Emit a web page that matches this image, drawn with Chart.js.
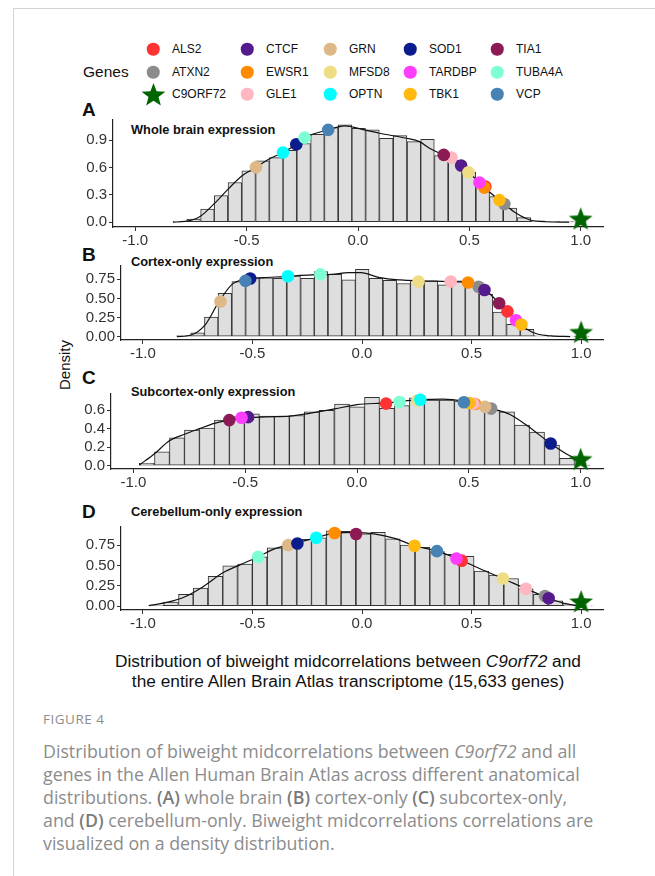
<!DOCTYPE html>
<html>
<head>
<meta charset="utf-8">
<script src="https://cdn.jsdelivr.net/npm/chart.js@4.4.1/dist/chart.umd.min.js"></script>
<style>
  html, body { margin: 0; padding: 0; background: #fff; }
  body { width: 655px; height: 876px; position: relative; overflow: hidden; font-family: "Liberation Sans", Arial, sans-serif; color: #111; }
  .frame-top { position: absolute; left: 13px; top: 8px; width: 642px; height: 1px; background: #d4d4d4; }
  .frame-left { position: absolute; left: 13px; top: 8px; width: 1px; height: 868px; background: #d4d4d4; }
  .abs { position: absolute; white-space: nowrap; }
  .panel-tag { font-weight: bold; font-size: 19px; line-height: 1; }
  .panel-title { font-weight: bold; font-size: 12.8px; line-height: 1; }
  .legend-item { position: absolute; font-size: 12px; line-height: 1; transform: translateY(-50%); }
  .dot { position: absolute; width: 12.5px; height: 12.5px; border-radius: 50%; transform: translate(-50%, -50%); }
  canvas.panel { position: absolute; }
  .xtitle { font-size: 17.3px; text-align: center; line-height: 20px; }
  .fig { font-family: "Open Sans", sans-serif; color: #8c8c8c; }
  .fig b { color: #7a7a7a; font-weight: 600; }
</style>
</head>
<body>
<div class="frame-top"></div>
<div class="frame-left"></div>

<div id="legend"></div>

<div class="abs panel-tag" style="left:82px; top:100px;">A</div>
<div class="abs panel-title" style="left:131px; top:124px;">Whole brain expression</div>
<div class="abs panel-tag" style="left:82px; top:245px;">B</div>
<div class="abs panel-title" style="left:131px; top:256px;">Cortex-only expression</div>
<div class="abs panel-tag" style="left:82px; top:368px;">C</div>
<div class="abs panel-title" style="left:131px; top:386px;">Subcortex-only expression</div>
<div class="abs panel-tag" style="left:82px; top:502px;">D</div>
<div class="abs panel-title" style="left:131px; top:506px;">Cerebellum-only expression</div>

<div class="abs" style="left:64px; top:365px; font-size:15px; transform: translate(-50%, -50%) rotate(-90deg);">Density</div>

<canvas class="panel" id="chartA"></canvas>
<canvas class="panel" id="chartB"></canvas>
<canvas class="panel" id="chartC"></canvas>
<canvas class="panel" id="chartD"></canvas>

<div class="abs xtitle" style="left:48px; width:600px; top:651px;">
  Distribution of biweight midcorrelations between <i>C9orf72</i> and<br>
  the entire Allen Brain Atlas transcriptome (15,633 genes)
</div>

<div class="abs fig" style="left:43px; top:710px; font-size:13.5px; letter-spacing:0.5px;">FIGURE 4</div>
<div class="abs fig" style="left:43px; top:740px; font-size:17.8px; line-height:23px;">
  Distribution of biweight midcorrelations between <i>C9orf72</i> and all<br>
  genes in the Allen Human Brain Atlas across different anatomical<br>
  distributions. <b>(A)</b> whole brain <b>(B)</b> cortex-only <b>(C)</b> subcortex-only,<br>
  and <b>(D)</b> cerebellum-only. Biweight midcorrelations correlations are<br>
  visualized on a density distribution.
</div>

<script>
// genes, in legend (alphabetical) order
const genes = ['ALS2', 'ATXN2', 'C9ORF72', 'CTCF', 'EWSR1', 'GLE1', 'GRN', 'MFSD8',
               'OPTN', 'SOD1', 'TARDBP', 'TBK1', 'TIA1', 'TUBA4A', 'VCP'];
const geneColors = ['#ff3333', '#8c8c8c', '#006400', '#551a8b', '#ff8c00', '#ffb6c1', '#deb887', '#eedd82',
                    '#00ffff', '#0b1d8c', '#ff3dff', '#ffb90f', '#8b1a55', '#7fffd4', '#4682b4'];

const xTicks = [-1, -0.5, 0, 0.5, 1];

// ── A : whole brain ──
const binsA = [-0.800, -0.738, -0.676, -0.615, -0.553, -0.491, -0.429, -0.367, -0.306, -0.244,
               -0.182, -0.120, -0.058, 0.003, 0.065, 0.127, 0.189, 0.251, 0.312, 0.374,
               0.436, 0.498, 0.560, 0.621, 0.683, 0.745, 0.807, 0.869, 0.930, 0.992];
const densA = [0.004, 0.033, 0.143, 0.293, 0.436, 0.564, 0.674, 0.710, 0.790, 0.865,
               0.967, 1.040, 1.070, 1.033, 1.015, 0.923, 0.952, 0.886, 0.912, 0.733,
               0.680, 0.550, 0.400, 0.280, 0.154, 0.050, 0.015, 0.003, 0.002, 0.002];
const curveXA = [-0.831, -0.776, -0.709, -0.643, -0.582, -0.519, -0.458, -0.395, -0.337, -0.277, -0.24,
                 -0.134, -0.06, 0.03, 0.097, 0.217, 0.276, 0.321, 0.385, 0.421, 0.463, 0.496, 0.545,
                 0.567, 0.635, 0.657, 0.709, 0.769, 0.844, 0.948];
const curveYA = [0, 0.007, 0.062, 0.209, 0.366, 0.513, 0.604, 0.70, 0.766, 0.857, 0.93,
                 1.015, 1.06, 1.015, 0.978, 0.923, 0.886, 0.813, 0.74, 0.71, 0.623, 0.549, 0.436,
                 0.381, 0.242, 0.198, 0.099, 0.026, 0.004, 0];
const geneXA = [0.572, 0.657, 1.0, 0.463, 0.567, 0.42, -0.458, 0.496, -0.337, -0.277, 0.545, 0.635, 0.385, -0.24, -0.134];
const geneYA = [0.39, 0.2, 0.037, 0.623, 0.38, 0.71, 0.604, 0.549, 0.766, 0.857, 0.436, 0.242, 0.74, 0.93, 1.015];
const yTicksA = [0, 0.3, 0.6, 0.9];

// ── B : cortex only ──
const binsB = [-0.814, -0.751, -0.688, -0.626, -0.563, -0.500, -0.437, -0.375, -0.312, -0.249,
               -0.187, -0.124, -0.061, 0.001, 0.064, 0.127, 0.190, 0.252, 0.315, 0.378,
               0.440, 0.503, 0.566, 0.628, 0.691, 0.754, 0.817, 0.879, 0.942, 1.005];
const densB = [0.013, 0.050, 0.257, 0.566, 0.720, 0.770, 0.770, 0.763, 0.793, 0.763,
               0.849, 0.814, 0.741, 0.879, 0.763, 0.737, 0.694, 0.737, 0.729, 0.677,
               0.729, 0.707, 0.557, 0.320, 0.160, 0.094, 0.013, 0.003, 0.002, 0.002];
const curveXB = [-0.845, -0.78, -0.717, -0.654, -0.592, -0.529, -0.451, -0.357, -0.232, -0.138, -0.06, -0.005,
                 0.081, 0.175, 0.269, 0.394, 0.473, 0.527, 0.567, 0.626, 0.664, 0.708, 0.755, 0.801, 0.864, 0.95];
const curveYB = [0, 0.021, 0.15, 0.45, 0.686, 0.75, 0.771, 0.784, 0.806, 0.814, 0.836, 0.836,
                 0.771, 0.741, 0.729, 0.72, 0.707, 0.664, 0.6, 0.437, 0.33, 0.214, 0.094, 0.034, 0.009, 0];
const geneXB = [0.664, 0.532, 1.0, 0.559, 0.484, 0.405, -0.646, 0.258, -0.338, -0.51, 0.703, 0.728, 0.626, -0.19, -0.532];
const geneYB = [0.33, 0.651, 0.06, 0.609, 0.707, 0.72, 0.459, 0.72, 0.789, 0.759, 0.214, 0.159, 0.437, 0.814, 0.729];
const yTicksB = [0, 0.25, 0.5, 0.75];

// ── C : subcortex only ──
const binsC = [-0.940, -0.872, -0.805, -0.738, -0.671, -0.604, -0.537, -0.470, -0.403, -0.336,
               -0.269, -0.202, -0.135, -0.067, 0.000, 0.067, 0.134, 0.201, 0.268, 0.335,
               0.402, 0.469, 0.537, 0.604, 0.671, 0.738, 0.805, 0.872, 0.939, 1.006];
const densC = [0.025, 0.150, 0.300, 0.386, 0.407, 0.493, 0.530, 0.561, 0.536, 0.536,
               0.543, 0.582, 0.600, 0.668, 0.636, 0.739, 0.620, 0.650, 0.734, 0.709,
               0.709, 0.700, 0.660, 0.600, 0.582, 0.439, 0.364, 0.221, 0.079, 0.002];
const curveXC = [-0.973, -0.907, -0.839, -0.772, -0.704, -0.638, -0.571, -0.503, -0.408, -0.301, -0.218,
                 -0.1, 0, 0.127, 0.283, 0.383, 0.478, 0.6, 0.684, 0.763, 0.866, 0.937, 0.99];
const curveYC = [0.007, 0.125, 0.268, 0.339, 0.4, 0.457, 0.493, 0.514, 0.529, 0.536, 0.564,
                 0.614, 0.661, 0.679, 0.714, 0.721, 0.696, 0.618, 0.554, 0.429, 0.239, 0.125, 0.06];
const geneXC = [0.13, 0.6, 1.0, -0.487, 0.528, 0.52, 0.573, 0.27, 0.283, 0.866, -0.516, 0.502, -0.571, 0.19, 0.478];
const geneYC = [0.672, 0.618, 0.07, 0.525, 0.668, 0.67, 0.636, 0.705, 0.714, 0.239, 0.518, 0.679, 0.493, 0.689, 0.686];
const yTicksC = [0, 0.2, 0.4, 0.6];

// ── D : cerebellum only ──
const binsD = [-0.939, -0.872, -0.804, -0.737, -0.669, -0.602, -0.534, -0.467, -0.399, -0.332,
               -0.264, -0.197, -0.129, -0.062, 0.006, 0.073, 0.141, 0.208, 0.276, 0.343,
               0.411, 0.478, 0.546, 0.613, 0.681, 0.748, 0.816, 0.883, 0.951, 1.018];
const densD = [0.012, 0.050, 0.145, 0.223, 0.367, 0.496, 0.516, 0.605, 0.715, 0.750,
               0.820, 0.840, 0.926, 0.918, 0.887, 0.906, 0.828, 0.750, 0.723, 0.672,
               0.637, 0.613, 0.430, 0.383, 0.340, 0.215, 0.145, 0.066, 0.020, 0.003];
const curveXD = [-0.973, -0.886, -0.808, -0.729, -0.635, -0.557, -0.474, -0.4, -0.337, -0.209, -0.125,
                 -0.027, 0.055, 0.149, 0.24, 0.342, 0.444, 0.541, 0.643, 0.748, 0.847, 0.918, 0.98];
const curveYD = [0.008, 0.05, 0.117, 0.234, 0.41, 0.508, 0.605, 0.703, 0.75, 0.84, 0.898,
                 0.906, 0.887, 0.832, 0.742, 0.676, 0.574, 0.457, 0.34, 0.215, 0.105, 0.039, 0.008];
const geneXD = [0.455, 0.835, 1.0, 0.852, -0.125, 0.748, -0.337, 0.643, -0.209, -0.295, 0.431, 0.24, -0.027, -0.474, 0.342];
const geneYD = [0.559, 0.125, 0.059, 0.098, 0.898, 0.215, 0.75, 0.34, 0.84, 0.77, 0.586, 0.742, 0.887, 0.605, 0.676];
const yTicksD = [0, 0.25, 0.5, 0.75];

// filled five-point star, used as point style for C9ORF72
function makeStar(size, color) {
  const c = document.createElement('canvas');
  c.width = c.height = size;
  const g = c.getContext('2d');
  const R = size / 2, r = R * 0.42, cx = size / 2, cy = size / 2 + R * 0.08;
  g.beginPath();
  for (let i = 0; i < 10; i++) {
    const rad = i % 2 ? r : R;
    const a = -Math.PI / 2 + i * Math.PI / 5;
    g.lineTo(cx + rad * Math.cos(a), cy + rad * Math.sin(a));
  }
  g.closePath();
  g.fillStyle = color;
  g.fill();
  return c;
}
const starIdx = genes.indexOf('C9ORF72');
const starImg = makeStar(25, geneColors[starIdx]);

// ── légende ──
const legend = document.getElementById('legend');
const colDot  = [153, 247, 330, 410, 497];
const colText = [172, 266, 349, 429, 516];
const rowY    = [49, 72, 94];
const genesLbl = document.createElement('div');
genesLbl.className = 'legend-item';
genesLbl.style.cssText = 'left:83px; top:72px; font-size:15.5px;';
genesLbl.textContent = 'Genes';
legend.appendChild(genesLbl);
genes.forEach((g, i) => {
  const col = Math.floor(i / 3), row = i % 3;
  if (i === starIdx) {
    const s = makeStar(25, geneColors[i]);
    s.style.cssText = `position:absolute; left:${colDot[col] - 12.5}px; top:${rowY[row] - 12.5}px;`;
    legend.appendChild(s);
  } else {
    const d = document.createElement('div');
    d.className = 'dot';
    d.style.left = colDot[col] + 'px';
    d.style.top = rowY[row] + 'px';
    d.style.background = geneColors[i];
    legend.appendChild(d);
  }
  const t = document.createElement('div');
  t.className = 'legend-item';
  t.style.left = colText[col] + 'px';
  t.style.top = rowY[row] + 'px';
  t.textContent = g;
  legend.appendChild(t);
});

Chart.defaults.font.family = '"Liberation Sans", Arial, sans-serif';
Chart.defaults.color = '#333';

const zip = (xs, ys) => xs.map((x, i) => ({ x, y: ys[i] }));

function drawPanel(id, p) {
  const canvas = document.getElementById(id);
  const left = 30, padTop = 12, padRight = 12, xAxisH = 26;
  canvas.width  = p.r + padRight - left;
  canvas.height = p.b - p.t + padTop + xAxisH;
  canvas.style.left = left + 'px';
  canvas.style.top  = (p.t - padTop) + 'px';

  new Chart(canvas, {
    data: {
      datasets: [
        {
          type: 'line',
          data: zip(p.geneX, p.geneY),
          showLine: false,
          order: 1,
          clip: false,
          pointRadius: 6.3,
          pointHoverRadius: 6.3,
          pointBorderWidth: 0,
          pointBackgroundColor: geneColors,
          pointStyle: ctx => ctx.dataIndex === starIdx ? starImg : 'circle',
        },
        {
          type: 'line',
          data: zip(p.curveX, p.curveY),
          order: 2,
          borderColor: '#111',
          borderWidth: 1.2,
          pointRadius: 0,
          cubicInterpolationMode: 'monotone',
        },
        {
          type: 'bar',
          data: zip(p.bins, p.dens),
          order: 3,
          backgroundColor: '#dedede',
          borderColor: '#333',
          borderWidth: 1,
          borderSkipped: false,
          barPercentage: 1,
          categoryPercentage: 1,
        },
      ],
    },
    options: {
      responsive: false,
      animation: false,
      events: [],
      layout: { padding: { top: padTop, right: padRight, left: 0, bottom: 0 } },
      plugins: { legend: { display: false }, tooltip: { enabled: false } },
      scales: {
        x: {
          type: 'linear',
          offset: false,
          min: -1.1, max: 1.1,
          afterBuildTicks: s => { s.ticks = xTicks.map(v => ({ value: v })); },
          afterFit: s => { s.height = xAxisH; },
          ticks: { font: { size: 15 }, color: '#333', padding: 1, maxRotation: 0, autoSkip: false,
                   callback: v => v.toFixed(1) },
          grid: { offset: false, drawOnChartArea: false, drawTicks: true, tickLength: 4, color: '#333' },
          border: { display: true, color: '#222', width: 1.2 },
        },
        y: {
          type: 'linear',
          min: p.yMin, max: p.yMax,
          afterBuildTicks: s => { s.ticks = p.yTicks.map(v => ({ value: v })); },
          afterFit: s => { s.width = p.l - left; },
          ticks: { font: { size: 15 }, color: '#333', padding: 2,
                   callback: v => v.toFixed(p.dec) },
          grid: { drawOnChartArea: false, drawTicks: true, tickLength: 4, color: '#333' },
          border: { display: true, color: '#222', width: 1.2 },
        },
      },
    },
  });
}

drawPanel('chartA', { l: 113, r: 603, t: 120, b: 227, yMin: -0.054, yMax: 1.124, dec: 1, yTicks: yTicksA,
  bins: binsA, dens: densA, curveX: curveXA, curveY: curveYA, geneX: geneXA, geneY: geneYA });
drawPanel('chartB', { l: 121, r: 603, t: 266, b: 340, yMin: -0.044, yMax: 0.923, dec: 2, yTicks: yTicksB,
  bins: binsB, dens: densB, curveX: curveXB, curveY: curveYB, geneX: geneXB, geneY: geneYB });
drawPanel('chartC', { l: 111, r: 603, t: 394, b: 469, yMin: -0.037, yMax: 0.776, dec: 1, yTicks: yTicksC,
  bins: binsC, dens: densC, curveX: curveXC, curveY: curveYC, geneX: geneXC, geneY: geneYC });
drawPanel('chartD', { l: 121, r: 603, t: 527, b: 610, yMin: -0.046, yMax: 0.972, dec: 2, yTicks: yTicksD,
  bins: binsD, dens: densD, curveX: curveXD, curveY: curveYD, geneX: geneXD, geneY: geneYD });
</script>
</body>
</html>
